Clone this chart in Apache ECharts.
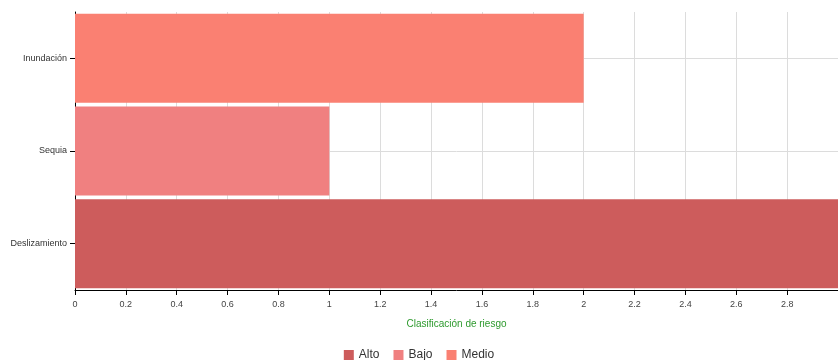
<!DOCTYPE html>
<html>
<head>
<meta charset="utf-8">
<script src="https://cdn.jsdelivr.net/npm/echarts@6/dist/echarts.min.js"></script>
<style>
html,body{margin:0;padding:0;background:#fff;}
#chart{width:838px;height:360px;}
</style>
</head>
<body>
<div id="chart"></div>
<script>
var categories = ['Deslizamiento', 'Sequia', 'Inundación'];
var alto  = [3, '-', '-'];
var bajo  = ['-', 1, '-'];
var medio = ['-', '-', 2];
var seriesNames = ['Alto', 'Bajo', 'Medio'];
var xMin = 0, xMax = 3, xStep = 0.2;

// eje oculto solo para pintar las lineas horizontales al centro de cada categoria
var guide = [];
for (var i = 0; i <= categories.length * 2; i++) guide.push('');

var options = {
    animation: false,
    color: ['#cd5c5c', '#f08080', '#fa8072'],
    grid: {left: 75, right: 0, top: 12, bottom: 70},
    legend: {
        data: seriesNames,
        bottom: -6,
        left: 'center',
        itemWidth: 10,
        itemHeight: 10,
        itemGap: 14,
        icon: 'rect',
        textStyle: {fontFamily: 'Liberation Sans', fontSize: 12, color: '#333'}
    },
    xAxis: {
        type: 'value',
        min: xMin,
        max: xMax,
        interval: xStep,
        name: 'Clasificación de riesgo',
        nameLocation: 'middle',
        nameGap: 29,
        nameTextStyle: {fontFamily: 'Liberation Sans', fontSize: 10, color: '#2e9a2e'},
        axisLine: {show: true, lineStyle: {color: '#000', width: 1}},
        axisTick: {show: true, length: 5, lineStyle: {color: '#000'}},
        axisLabel: {
            fontFamily: 'Liberation Sans', fontSize: 9, color: '#444', margin: 10,
            showMaxLabel: false,
            formatter: function (v) { return String(+v.toFixed(1)); }
        },
        splitLine: {show: true, lineStyle: {color: '#dcdcdc', width: 1}}
    },
    yAxis: [
        {
            type: 'category',
            data: categories,
            axisLine: {show: true, lineStyle: {color: '#000', width: 1}},
            axisTick: {show: true, alignWithLabel: true, length: 5, lineStyle: {color: '#000'}},
            axisLabel: {fontFamily: 'Liberation Sans', fontSize: 9, color: '#333', margin: 8},
            splitLine: {show: false}
        },
        {
            type: 'category',
            data: guide,
            boundaryGap: false,
            position: 'left',
            axisLine: {show: false},
            axisTick: {show: false},
            axisLabel: {show: false},
            splitLine: {
                show: true,
                interval: function (idx) { return idx % 2 === 1; },
                lineStyle: {color: '#dcdcdc', width: 1}
            }
        }
    ],
    series: [
        {name: 'Alto', type: 'bar', stack: 'r', data: alto, barCategoryGap: '4%'},
        {name: 'Bajo', type: 'bar', stack: 'r', data: bajo, barCategoryGap: '4%'},
        {name: 'Medio', type: 'bar', stack: 'r', data: medio, barCategoryGap: '4%'}
    ]
};

var myChart = echarts.init(document.getElementById('chart'));
myChart.setOption(options);
</script>
</body>
</html>
